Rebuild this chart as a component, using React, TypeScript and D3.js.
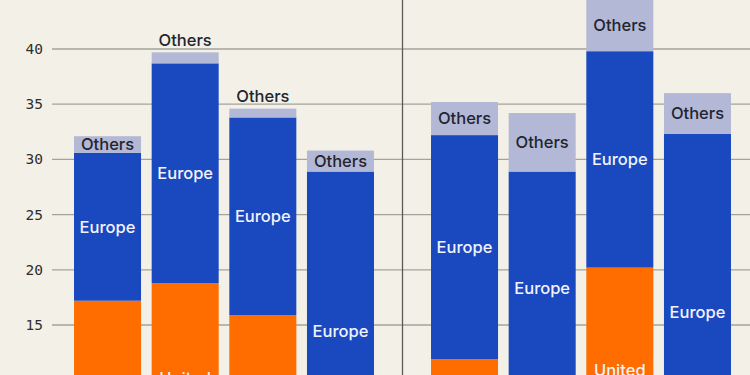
import React, { useEffect, useRef } from 'react';
import * as d3 from 'd3';

// two groups of four stacked bars, split by a vertical rule
const groupA = ['a1', 'a2', 'a3', 'a4'];
const groupB = ['b1', 'b2', 'b3', 'b4'];
const unitedStates = [17.2, 18.8, 15.9, 0, 11.9, 7.7, 20.2, 0];
const europe = [13.4, 19.9, 17.9, 28.9, 20.3, 21.2, 19.6, 32.3];
const others = [1.5, 1.0, 0.8, 1.9, 3.0, 5.3, 4.7, 3.7];
const yTicks = [10, 15, 20, 25, 30, 35, 40, 45];

const seriesKeys = ['us', 'europe', 'others'];
const seriesLabels = { us: ['United', 'States'], europe: ['Europe'], others: ['Others'] };
const colors = { us: '#ff6d00', europe: '#1a48bf', others: '#b3b8d6' };

const App = () => {
  const svgRef = useRef<SVGSVGElement>(null);

  useEffect(() => {
    const width = 750;
    const height = 375;
    const svg = d3.select(svgRef.current);
    svg.selectAll('*').remove();

    const rows = [...groupA, ...groupB].map((id, i) => ({
      id,
      group: i < groupA.length ? 'A' : 'B',
      us: unitedStates[i],
      europe: europe[i],
      others: others[i],
    }));

    const y = d3.scaleLinear().domain([0, 45]).range([490.6, -6.2]);
    const xA = d3.scaleBand().domain(groupA).range([68.7, 379.3]).paddingInner(0.137).paddingOuter(0.0685);
    const xB = d3.scaleBand().domain(groupB).range([425.7, 736.3]).paddingInner(0.137).paddingOuter(0.0685);
    const xOf = (d) => (d.group === 'A' ? xA(d.id) : xB(d.id));
    const bw = xA.bandwidth();

    svg.append('rect').attr('width', width).attr('height', height).attr('fill', '#f3f1e7');

    // grid + tick labels
    const grid = svg.append('g');
    grid.selectAll('line')
      .data(yTicks)
      .join('line')
      .attr('x1', 52)
      .attr('x2', width)
      .attr('y1', (d) => y(d))
      .attr('y2', (d) => y(d))
      .attr('stroke', '#a3a39a')
      .attr('stroke-width', 1.3);
    grid.selectAll('text')
      .data(yTicks)
      .join('text')
      .attr('x', 43)
      .attr('y', (d) => y(d))
      .attr('dy', '0.35em')
      .attr('text-anchor', 'end')
      .attr('font-family', 'DejaVu Sans Mono')
      .attr('font-size', 14.5)
      .attr('fill', '#2e2e2e')
      .text((d) => d);

    // divider between groups
    const midX = (xA.range()[1] + xB.range()[0]) / 2;
    svg.append('line')
      .attr('x1', midX)
      .attr('x2', midX)
      .attr('y1', 0)
      .attr('y2', height)
      .attr('stroke', '#5a5a55')
      .attr('stroke-width', 1.3);

    const stacked = d3.stack().keys(seriesKeys)(rows);

    stacked.forEach((layer) => {
      const key = layer.key;
      const g = svg.append('g');
      g.selectAll('rect')
        .data(layer)
        .join('rect')
        .attr('x', (d) => xOf(d.data))
        .attr('width', bw)
        .attr('y', (d) => y(d[1]))
        .attr('height', (d) => Math.max(0, y(d[0]) - y(d[1])))
        .attr('fill', colors[key]);

      layer.forEach((d) => {
        if (d[1] - d[0] <= 0) return;
        const cx = xOf(d.data) + bw / 2;
        let cy = (y(d[0]) + y(d[1])) / 2;
        const small = key === 'others' && d[1] - d[0] < 1.2;
        if (small) cy = y(d[1]) - 12;
        const lines = seriesLabels[key];
        const t = g.append('text')
          .attr('text-anchor', 'middle')
          .attr('font-family', 'Inter, "Noto Sans", sans-serif')
          .attr('font-size', 16.5)
          .attr('font-weight', 500)
          .attr('fill', key === 'others' ? '#22252e' : '#f2f3fa');
        lines.forEach((ln, i) => {
          t.append('tspan')
            .attr('x', cx)
            .attr('y', cy + (i - (lines.length - 1) / 2) * 18)
            .attr('dy', '0.35em')
            .text(ln);
        });
      });
    });
  }, []);

  return (
    <div style={{ position: 'fixed', left: 0, top: 0 }}>
      <svg ref={svgRef} width={750} height={375} style={{ display: 'block' }}></svg>
    </div>
  );
};

export default App;
